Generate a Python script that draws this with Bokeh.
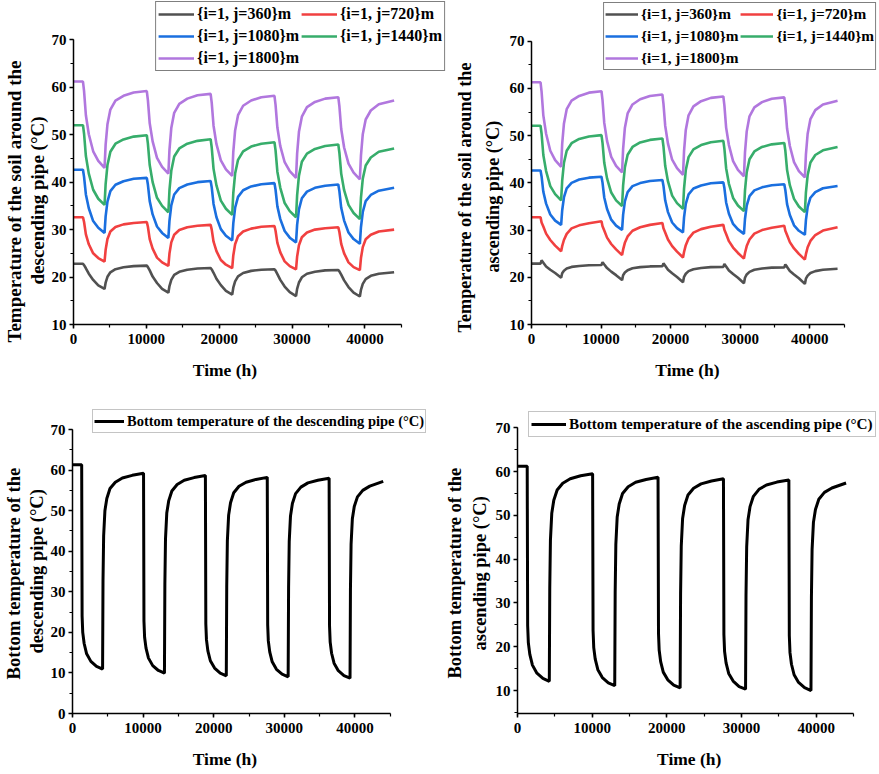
from bokeh.plotting import figure
from bokeh.models import Range1d, SingleIntervalTicker, Legend, LegendItem, ColumnDataSource, Title
from bokeh.layouts import column, row
from bokeh.embed import file_html
from bokeh.resources import INLINE

# ---------------- data ----------------
T_TOP = [0,
         1300, 1450, 1700, 2100, 2700, 3400, 4260, 4410, 4660, 5060, 5760, 6860, 8260,
         10060, 10210, 10460, 10860, 11460, 12160, 13020, 13170, 13420, 13820, 14520, 15620, 17020,
         18820, 18970, 19220, 19620, 20220, 20920, 21780, 21930, 22180, 22580, 23280, 24380, 25780,
         27580, 27730, 27980, 28380, 28980, 29680, 30540, 30690, 30940, 31340, 32040, 33140, 34540,
         36340, 36490, 36740, 37140, 37740, 38440, 39300, 39450, 39700, 40100, 40800, 41900, 44000]

DESC_360 = [22.8,
            22.8, 22.5, 21.85, 20.7, 19.4, 18.25, 17.5, 18.8, 20.05, 21.0, 21.65, 22.05, 22.3,
            22.4, 22.1, 21.4, 20.1, 18.75, 17.5, 16.7, 18.1, 19.4, 20.45, 21.1, 21.55, 21.8,
            21.9, 21.6, 20.9, 19.65, 18.3, 17.1, 16.3, 17.75, 19.1, 20.15, 20.85, 21.3, 21.55,
            21.65, 21.35, 20.6, 19.4, 18.0, 16.8, 16.0, 17.5, 18.85, 19.95, 20.7, 21.1, 21.4,
            21.5, 21.2, 20.5, 19.3, 17.9, 16.7, 15.9, 17.3, 18.55, 19.55, 20.25, 20.7, 21.0]
DESC_720 = [32.6,
            32.6, 31.6, 29.0, 26.9, 25.0, 24.0, 23.25, 25.75, 28.0, 29.6, 30.55, 31.1, 31.4,
            31.6, 30.6, 28.0, 26.0, 24.1, 23.1, 22.35, 24.95, 27.3, 28.9, 29.9, 30.5, 30.8,
            31.0, 30.0, 27.45, 25.45, 23.6, 22.6, 21.9, 24.55, 26.9, 28.6, 29.6, 30.2, 30.6,
            30.75, 29.75, 27.2, 25.2, 23.3, 22.3, 21.6, 24.3, 26.7, 28.4, 29.4, 30.0, 30.3,
            30.5, 29.5, 27.0, 25.0, 23.1, 22.1, 21.45, 24.0, 26.3, 27.95, 28.9, 29.6, 30.0]
DESC_1080 = [42.6,
             42.6, 41.1, 37.4, 34.5, 31.8, 30.4, 29.3, 32.8, 35.9, 38.1, 39.45, 40.2, 40.7,
             40.9, 39.5, 36.0, 33.2, 30.65, 29.3, 28.25, 31.85, 35.1, 37.4, 38.75, 39.5, 40.0,
             40.25, 38.9, 35.4, 32.6, 30.1, 28.7, 27.7, 31.3, 34.6, 36.9, 38.3, 39.1, 39.55,
             39.8, 38.4, 34.9, 32.2, 29.7, 28.3, 27.3, 31.0, 34.25, 36.6, 38.0, 38.8, 39.25,
             39.5, 38.1, 34.6, 31.9, 29.4, 28.0, 27.0, 30.5, 33.7, 36.0, 37.3, 38.2, 38.8]
DESC_1440 = [52.0,
             52.0, 50.2, 45.5, 41.8, 38.4, 36.5, 35.2, 39.6, 43.6, 46.4, 48.1, 49.0, 49.6,
             49.9, 48.1, 43.6, 40.0, 36.7, 35.0, 33.65, 38.3, 42.4, 45.4, 47.1, 48.1, 48.7,
             49.05, 47.3, 42.8, 39.3, 36.1, 34.4, 33.1, 37.7, 41.8, 44.7, 46.5, 47.5, 48.1,
             48.4, 46.7, 42.2, 38.8, 35.6, 33.9, 32.6, 37.2, 41.35, 44.3, 46.0, 47.0, 47.6,
             47.95, 46.2, 41.8, 38.3, 35.2, 33.5, 32.2, 36.7, 40.7, 43.5, 45.2, 46.4, 47.1]
DESC_1800 = [61.2,
             61.2, 59.2, 54.1, 50.1, 46.5, 44.5, 43.0, 47.9, 52.2, 55.3, 57.2, 58.2, 58.9,
             59.2, 57.3, 52.4, 48.6, 45.1, 43.2, 41.8, 46.8, 51.4, 54.6, 56.5, 57.6, 58.3,
             58.6, 56.7, 51.9, 48.0, 44.6, 42.7, 41.3, 46.4, 50.9, 54.1, 56.1, 57.2, 57.9,
             58.2, 56.3, 51.5, 47.6, 44.2, 42.3, 40.9, 46.0, 50.6, 53.8, 55.8, 56.9, 57.6,
             57.9, 56.0, 51.2, 47.3, 43.9, 42.0, 40.6, 45.6, 50.1, 53.2, 55.1, 56.4, 57.2]

ASC_360 = [22.9,
           22.9, 23.6, 23.1, 22.3, 21.6, 20.9, 19.9, 20.85, 21.4, 21.85, 22.2, 22.4, 22.55,
           22.6, 23.2, 22.7, 21.95, 21.2, 20.45, 19.4, 20.45, 21.0, 21.5, 21.9, 22.15, 22.3,
           22.35, 22.95, 22.45, 21.6, 20.85, 20.05, 18.95, 20.1, 20.75, 21.3, 21.7, 21.95, 22.15,
           22.2, 22.8, 22.3, 21.45, 20.7, 19.9, 18.75, 19.9, 20.6, 21.15, 21.6, 21.85, 22.05,
           22.1, 22.7, 22.2, 21.35, 20.6, 19.8, 18.6, 19.7, 20.35, 20.9, 21.3, 21.6, 21.8]
ASC_720 = [32.7,
           32.7, 31.6, 30.75, 29.25, 27.9, 26.7, 25.5, 26.6, 27.9, 29.2, 30.35, 31.0, 31.45,
           31.85, 30.8, 29.9, 28.4, 27.05, 25.9, 24.7, 25.85, 27.3, 28.65, 29.85, 30.6, 31.1,
           31.5, 30.4, 29.5, 28.0, 26.6, 25.45, 24.2, 25.35, 26.8, 28.2, 29.45, 30.2, 30.7,
           31.1, 30.05, 29.15, 27.65, 26.3, 25.15, 23.95, 25.15, 26.6, 28.0, 29.25, 30.0, 30.5,
           30.9, 29.85, 28.95, 27.45, 26.1, 24.95, 23.75, 24.9, 26.35, 27.7, 28.95, 29.9, 30.6]
ASC_1080 = [42.6,
            42.6, 41.35, 38.1, 35.6, 33.3, 32.0, 31.1, 34.15, 36.9, 38.85, 40.0, 40.7, 41.1,
            41.3, 40.05, 36.9, 34.45, 32.2, 30.95, 30.05, 33.2, 36.05, 38.05, 39.3, 39.95, 40.4,
            40.6, 39.4, 36.3, 33.8, 31.6, 30.4, 29.5, 32.7, 35.55, 37.55, 38.8, 39.45, 39.9,
            40.1, 38.9, 35.85, 33.45, 31.3, 30.15, 29.2, 32.35, 35.2, 37.2, 38.4, 39.05, 39.5,
            39.7, 38.5, 35.5, 33.2, 31.0, 29.85, 29.0, 32.1, 34.9, 36.85, 38.05, 38.85, 39.35]
ASC_1440 = [52.1,
            52.1, 50.4, 45.9, 42.5, 39.3, 37.6, 36.3, 40.4, 44.2, 46.8, 48.4, 49.3, 49.8,
            50.1, 48.45, 44.25, 40.95, 37.95, 36.3, 35.1, 39.4, 43.25, 45.95, 47.6, 48.55, 49.1,
            49.4, 47.75, 43.6, 40.3, 37.3, 35.7, 34.5, 38.8, 42.7, 45.45, 47.1, 48.0, 48.6,
            48.9, 47.25, 43.1, 39.8, 36.8, 35.2, 34.0, 38.35, 42.25, 45.0, 46.65, 47.6, 48.15,
            48.45, 46.85, 42.75, 39.5, 36.6, 35.0, 33.8, 37.95, 41.65, 44.3, 45.9, 46.9, 47.6]
ASC_1800 = [61.3,
            61.3, 59.3, 54.3, 50.4, 46.8, 44.8, 43.4, 48.2, 52.5, 55.6, 57.4, 58.4, 59.1,
            59.4, 57.5, 52.7, 48.9, 45.5, 43.6, 42.2, 47.15, 51.6, 54.7, 56.6, 57.7, 58.4,
            58.7, 56.8, 52.1, 48.3, 44.9, 43.1, 41.7, 46.7, 51.2, 54.3, 56.2, 57.3, 58.0,
            58.3, 56.4, 51.7, 48.0, 44.6, 42.75, 41.4, 46.4, 50.9, 54.1, 56.0, 57.1, 57.8,
            58.1, 56.2, 51.5, 47.8, 44.4, 42.5, 41.15, 46.0, 50.4, 53.5, 55.4, 56.6, 57.4]

T_BOT = [0,
         1300, 1360, 1450, 1650, 2000, 2600, 3400, 4260, 4320, 4410, 4590, 4860, 5310, 6060, 7060, 8460,
         10060, 10120, 10210, 10410, 10760, 11360, 12160, 13020, 13080, 13170, 13350, 13620, 14070, 14820, 15820, 17220,
         18820, 18880, 18970, 19170, 19520, 20120, 20920, 21780, 21840, 21930, 22110, 22380, 22830, 23580, 24580, 25980,
         27580, 27640, 27730, 27930, 28280, 28880, 29680, 30540, 30600, 30690, 30870, 31140, 31590, 32340, 33340, 34740,
         36340, 36400, 36490, 36690, 37040, 37640, 38440, 39300, 39360, 39450, 39630, 39900, 40350, 41100, 42100, 44000]

BOT_DESC = [61.3,
            61.3, 24.0, 20.0, 17.25, 14.7, 12.85, 11.6, 10.95, 32.7, 43.75, 50.0, 53.0, 55.45, 57.0, 58.05, 58.7,
            59.2, 22.75, 18.8, 16.1, 13.65, 11.8, 10.6, 9.95, 31.85, 43.05, 49.4, 52.4, 54.85, 56.45, 57.5, 58.15,
            58.65, 22.1, 18.2, 15.45, 13.0, 11.2, 9.95, 9.3, 31.3, 42.55, 48.9, 51.95, 54.4, 56.0, 57.0, 57.7,
            58.2, 21.85, 17.9, 15.2, 12.75, 10.9, 9.7, 9.05, 31.1, 42.35, 48.7, 51.75, 54.2, 55.8, 56.85, 57.5,
            58.0, 21.5, 17.6, 14.85, 12.4, 10.55, 9.35, 8.7, 30.55, 41.7, 48.0, 51.0, 53.4, 55.0, 56.05, 57.2]
BOT_ASC = [61.2,
           61.2, 24.85, 20.95, 18.25, 15.8, 13.95, 12.75, 12.1, 33.45, 44.35, 50.5, 53.45, 55.8, 57.35, 58.35, 59.05,
           59.5, 23.7, 19.8, 17.15, 14.75, 12.95, 11.75, 11.1, 32.5, 43.45, 49.65, 52.6, 55.0, 56.55, 57.55, 58.2,
           58.7, 23.1, 19.25, 16.6, 14.2, 12.45, 11.25, 10.6, 32.1, 43.05, 49.3, 52.25, 54.65, 56.2, 57.2, 57.85,
           58.35, 22.8, 18.95, 16.3, 13.9, 12.15, 10.9, 10.3, 31.8, 42.8, 49.0, 52.0, 54.35, 55.95, 56.95, 57.6,
           58.1, 22.5, 18.65, 16.0, 13.6, 11.85, 10.65, 10.0, 31.35, 42.25, 48.4, 51.35, 53.7, 55.25, 56.25, 57.4]

SERIES_LABELS = ["{i=1, j=360}m", "{i=1, j=720}m", "{i=1, j=1080}m", "{i=1, j=1440}m", "{i=1, j=1800}m"]
SERIES_COLORS = ["#515151", "#F14040", "#1A6FDF", "#37AD6B", "#B177DE"]

FONT = "Liberation Serif"
NB = "\u00a0"  # non-breaking space, used to nudge the x-axis title off the frame centre


def make_fig(width, height, x_end, y_start, y_end, borders, ylines, ylab_size, ylab_offsets,
             ylab_standoff, xpad):
    left, right, top, bottom = borders
    p = figure(width=width, height=height, output_backend="svg", toolbar_location=None,
               x_range=Range1d(0, x_end), y_range=Range1d(y_start, y_end),
               min_border_left=left, min_border_right=right,
               min_border_top=top, min_border_bottom=bottom)
    p.outline_line_color = None
    p.grid.visible = False
    p.background_fill_color = "white"
    p.border_fill_color = "white"
    p.xaxis.ticker = SingleIntervalTicker(interval=10000, num_minor_ticks=2)
    p.yaxis.ticker = SingleIntervalTicker(interval=10, num_minor_ticks=2)
    p.xaxis.bounds = (0, 45000)
    p.yaxis.bounds = (y_start, 70)
    for ax in (p.xaxis[0], p.yaxis[0]):
        ax.axis_line_width = 1.5
        ax.axis_line_color = "black"
        ax.major_tick_line_width = 1.5
        ax.minor_tick_line_width = 1.2
        ax.major_tick_line_color = "black"
        ax.minor_tick_line_color = "black"
        ax.major_tick_in = 0
        ax.major_tick_out = 4
        ax.minor_tick_in = 0
        ax.minor_tick_out = 3
        ax.major_label_text_font = FONT
        ax.major_label_text_font_style = "bold"
        ax.major_label_text_font_size = "15px"
        ax.major_label_text_color = "black"
        ax.axis_label_text_font = FONT
        ax.axis_label_text_font_style = "bold"
        ax.axis_label_text_color = "black"
    p.xaxis.axis_label = "Time (h)" + NB * xpad
    p.xaxis.axis_label_text_font_size = "17.5px"
    p.xaxis.major_label_standoff = 5
    p.xaxis.axis_label_standoff = 13
    p.yaxis.major_label_standoff = 3
    # two-line y title: inner line first (closest to the axis), then the outer line
    for text, off in ((ylines[1], ylab_offsets[1]), (ylines[0], ylab_offsets[0])):
        p.add_layout(Title(text=text, align="left", vertical_align="middle", offset=off,
                           standoff=ylab_standoff, text_font=FONT, text_font_size=ylab_size,
                           text_font_style="bold", text_color="black"), "left")
    return p


def top_panel(width, x_end, y_end, borders, ylines, ylab_size, ylab_offsets, ylab_standoff,
              xpad, series, leg_font, glyph_w, leg_pad, leg_margin):
    p = make_fig(width, 394, x_end, 10, y_end, borders, ylines, ylab_size, ylab_offsets,
                 ylab_standoff, xpad)
    src = ColumnDataSource(dict(t=T_TOP, **{f"s{i}": s for i, s in enumerate(series)}))
    items = []
    for i, (lab, col) in enumerate(zip(SERIES_LABELS, SERIES_COLORS)):
        r = p.line("t", f"s{i}", source=src, line_color=col, line_width=2.6)
        items.append(LegendItem(label=lab, renderers=[r]))
    leg = Legend(items=items, location="top_right", orientation="horizontal", ncols=2,
                 label_text_font=FONT, label_text_font_style="bold",
                 label_text_font_size=leg_font, label_text_color="black",
                 glyph_width=glyph_w, glyph_height=20, label_height=20, label_width=20,
                 label_standoff=3, spacing=2, padding=leg_pad, margin=leg_margin,
                 border_line_color="black", border_line_width=1.3,
                 background_fill_color="white", background_fill_alpha=1)
    p.add_layout(leg, "center")
    return p


def bottom_panel(width, x_end, y_start, y_end, borders, ylines, ylab_size, ylab_offsets,
                 ylab_standoff, xpad, values, label, leg_loc, leg_font, glyph_w, leg_pad):
    p = make_fig(width, 379, x_end, y_start, y_end, borders, ylines, ylab_size, ylab_offsets,
                 ylab_standoff, xpad)
    src = ColumnDataSource(dict(t=T_BOT, v=values))
    r = p.line("t", "v", source=src, line_color="black", line_width=3)
    leg = Legend(items=[LegendItem(label=label, renderers=[r])], location=leg_loc,
                 label_text_font=FONT, label_text_font_style="bold",
                 label_text_font_size=leg_font, label_text_color="black",
                 glyph_width=glyph_w, glyph_height=20, label_height=20,
                 label_standoff=3, spacing=0, padding=leg_pad, margin=0,
                 border_line_color="#8a8a8a", border_line_width=1.3,
                 background_fill_color="white", background_fill_alpha=1)
    p.add_layout(leg, "center")
    return p


p1 = top_panel(446, 51190, 78.28, (73, 0, 0, 70),
               ("Temperature of the soil around the", "descending pipe (°C)"),
               "19px", (-18, 40), 0, 16,
               [DESC_360, DESC_720, DESC_1080, DESC_1440, DESC_1800],
               "16px", 36, 2, 1)
p2 = top_panel(432, 49885, 78.62, (85, 0, 0, 70),
               ("Temperature of the soil around the", "ascending pipe  (°C)"),
               "18.2px", (-8, 52), 5.5, 8,
               [ASC_360, ASC_720, ASC_1080, ASC_1440, ASC_1800],
               "15.3px", 33, 1, 2)
p3 = bottom_panel(438, 51829, 0, 74.93, (72, 0, 15, 60),
                  ("Bottom temperature of the", "descending pipe (°C)"),
                  "18.6px", (34, 60), 0, 14,
                  BOT_DESC, "Bottom temperature of the descending pipe (°C)",
                  (20, 280), "14.5px", 30, 1)
p4 = bottom_panel(440, 48343, 4.75, 74.18, (79, 0, 15, 60),
                  ("Bottom temperature of the", "ascending pipe (°C)"),
                  "18.5px", (35, 63), 3, 4,
                  BOT_ASC, "Bottom temperature of the ascending pipe (°C)",
                  (11, 276), "15.2px", 35, 2)

layout = column(row(p1, p2), row(p3, p4))
open("out.html", "w").write(file_html(layout, INLINE))
